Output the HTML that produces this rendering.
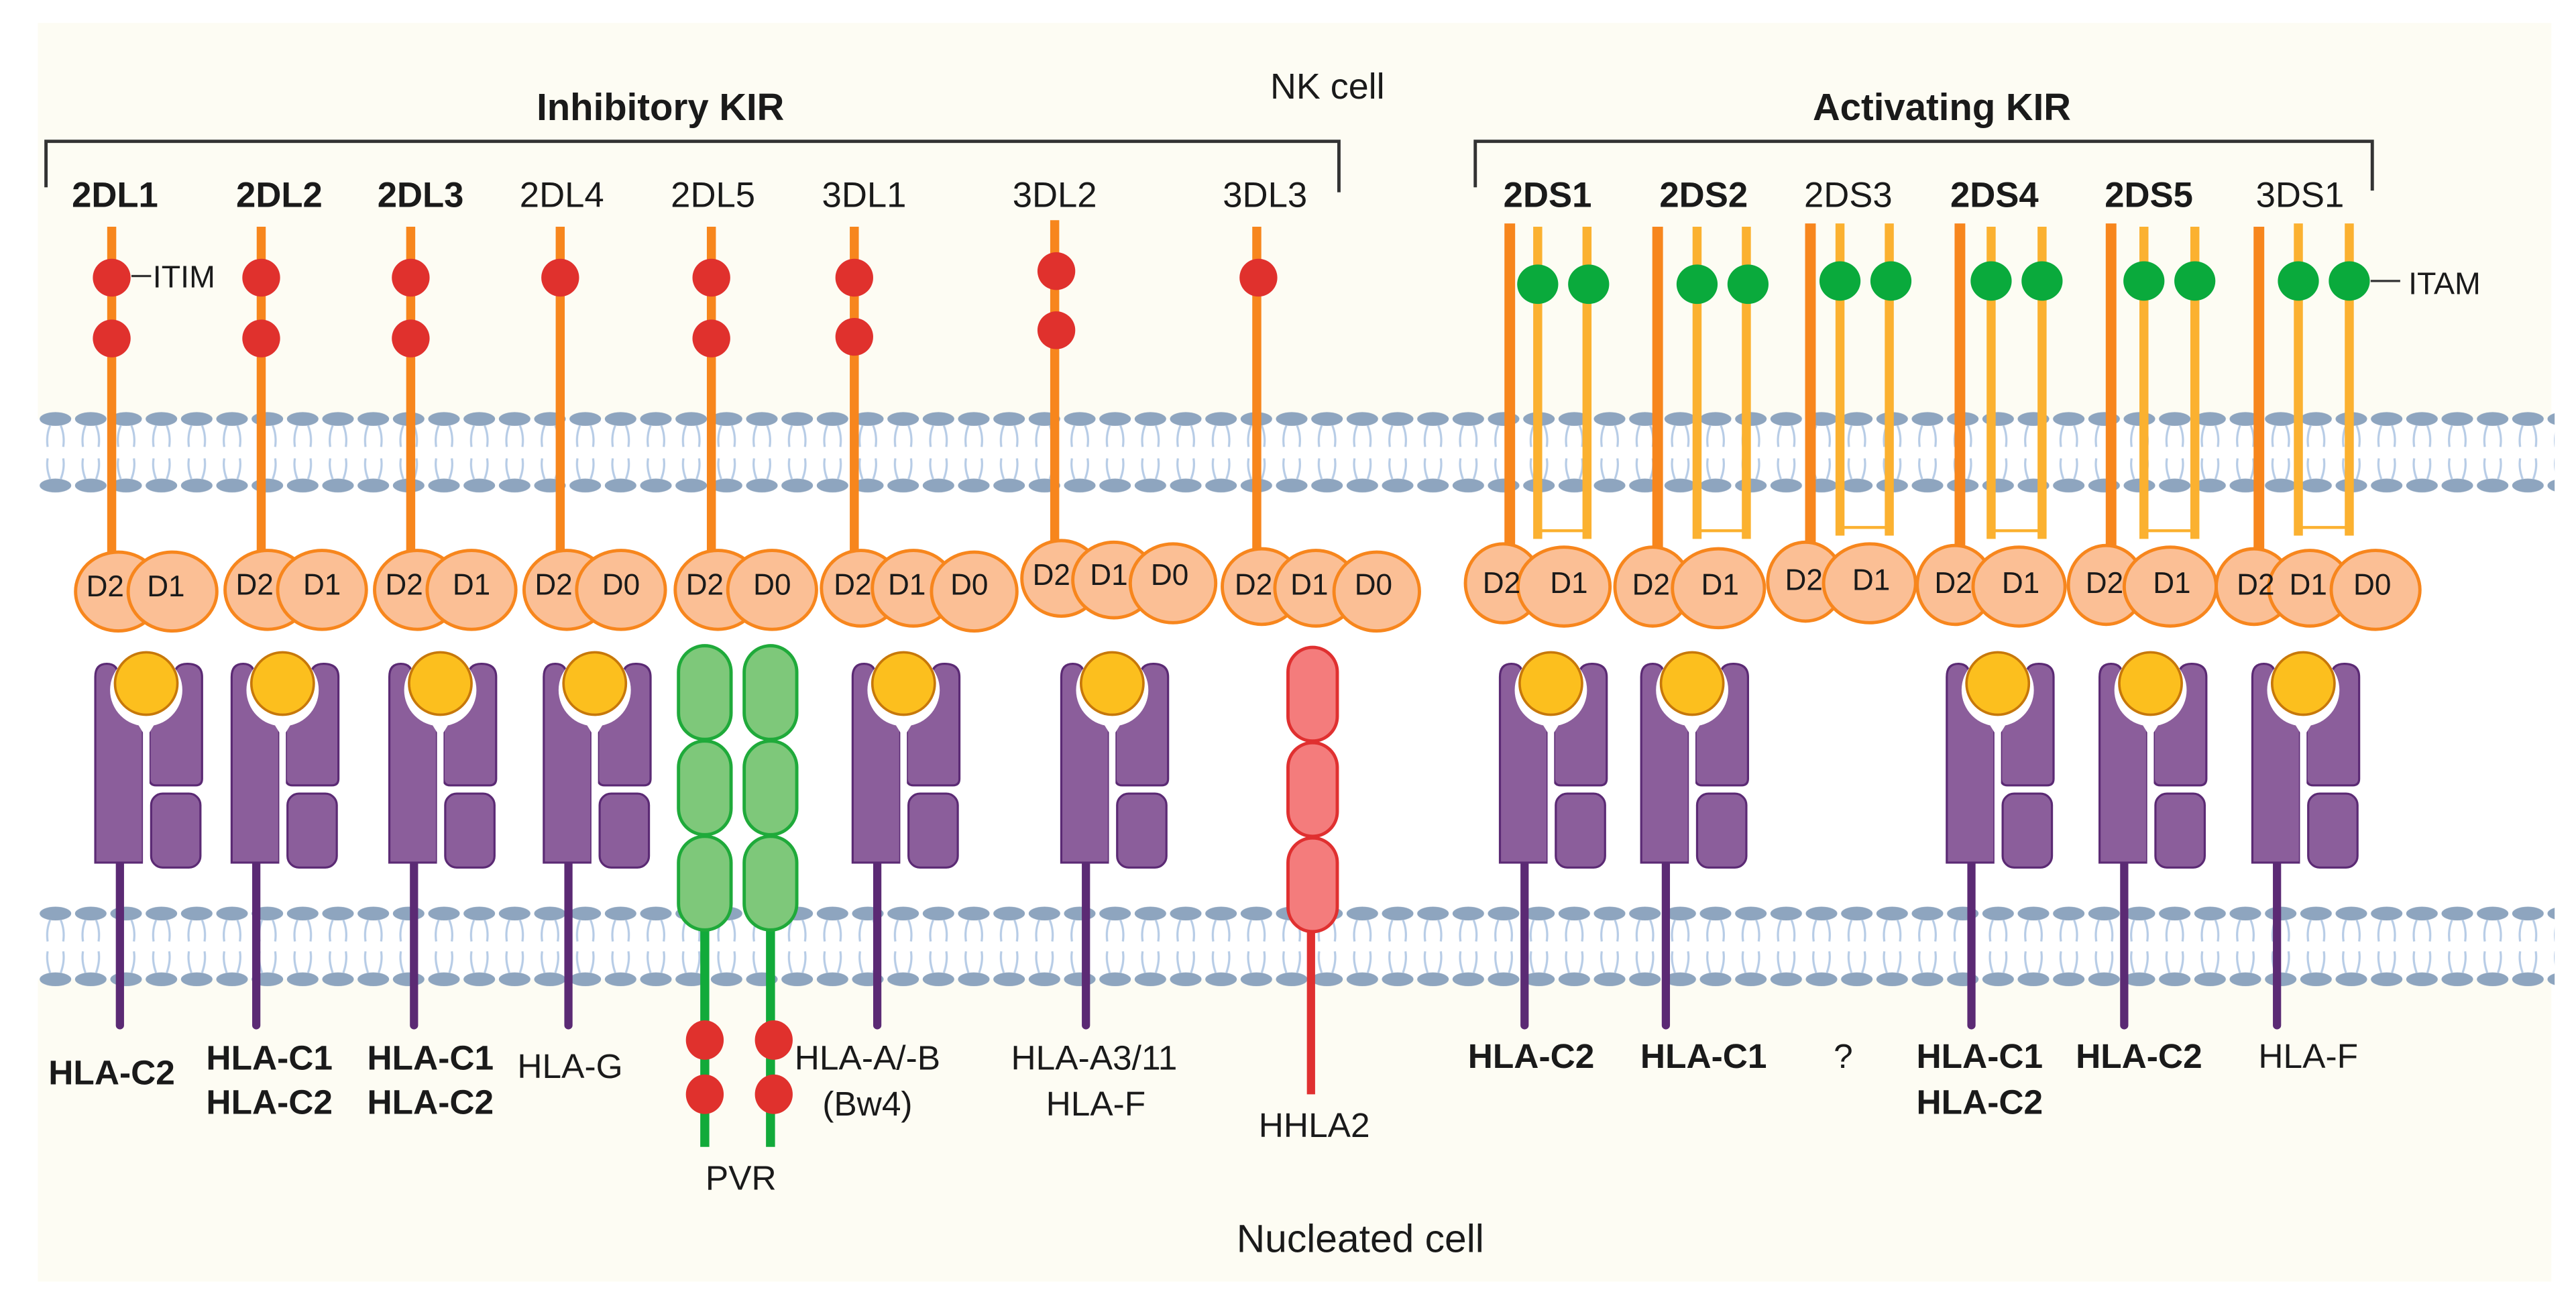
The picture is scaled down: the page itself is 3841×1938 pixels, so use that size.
<!DOCTYPE html>
<html><head><meta charset="utf-8"><style>
html,body{margin:0;padding:0;background:#fff;}
svg{display:block;}
text{font-family:"Liberation Sans",Arial,sans-serif;fill:#1a1a1a;}
.b{font-weight:bold;}
</style></head><body>
<svg width="3841" height="1938" viewBox="0 0 1568 791.2" preserveAspectRatio="none" xmlns="http://www.w3.org/2000/svg">
<defs>
<pattern id="mem" patternUnits="userSpaceOnUse" x="23" y="250" width="21.5" height="50">
<ellipse cx="10.75" cy="5" rx="9.6" ry="4.2" fill="#8ea5bf"/>
<ellipse cx="10.75" cy="45.5" rx="9.6" ry="4.2" fill="#8ea5bf"/>
<path d="M7.5,9 Q5,15 6,22 M14,9 Q16.5,15 15.5,22 M6,29 Q5,35 7.5,41.5 M15.5,29 Q16.5,35 14,41.5" stroke="#b7cce6" stroke-width="1.3" fill="none"/>
</pattern>
<pattern id="mem2" patternUnits="userSpaceOnUse" x="23" y="551" width="21.5" height="50">
<ellipse cx="10.75" cy="5" rx="9.6" ry="4.2" fill="#8ea5bf"/>
<ellipse cx="10.75" cy="45" rx="9.6" ry="4.2" fill="#8ea5bf"/>
<path d="M7.5,9 Q5,15 6,22 M14,9 Q16.5,15 15.5,22 M6,28 Q5,34 7.5,41 M15.5,28 Q16.5,34 14,41" stroke="#b7cce6" stroke-width="1.3" fill="none"/>
</pattern>
<g id="hla">
<line x1="-16" y1="520" x2="-16" y2="624" stroke="#5b2a74" stroke-width="5" stroke-linecap="round"/>
<path d="M-31,525 L-31,412 Q-31,404 -24,404 Q-17,404 -17,412 L-2,430 L-2,525 Z" fill="#8b5e9b" stroke="#5b2a74" stroke-width="1.3"/>
<path d="M2,430 L17,412 Q17,404 25,404 Q34,404 34,412 L34,474 Q34,478 30,478 L6,478 Q2,478 2,474 Z" fill="#8b5e9b" stroke="#5b2a74" stroke-width="1.3"/>
<rect x="3" y="483" width="30" height="45" rx="7" fill="#8b5e9b" stroke="#5b2a74" stroke-width="1.3"/>
<circle cx="0" cy="420" r="22" fill="#fff"/>
<path d="M-8,436 L0,449 L8,436 Z" fill="#fff"/>
<rect x="-2" y="440" width="4" height="90" fill="#fff"/>
<circle cx="0" cy="416" r="19" fill="#fcbf1e" stroke="#c7780a" stroke-width="1.5"/>
</g>
</defs>

<!-- backgrounds -->
<rect x="23" y="14" width="1530" height="241" fill="#fdfcf3"/>
<rect x="23" y="596" width="1530" height="184" fill="#fdfcf3"/>
<rect x="23" y="250" width="1532" height="50" fill="url(#mem)"/>
<rect x="23" y="551" width="1532" height="50" fill="url(#mem2)"/>

<!-- titles & brackets -->
<text x="402" y="73" font-size="23" class="b" text-anchor="middle">Inhibitory KIR</text>
<text x="808" y="60" font-size="22" text-anchor="middle">NK cell</text>
<text x="1182" y="73" font-size="23" class="b" text-anchor="middle">Activating KIR</text>
<path d="M28,114 L28,86 L815,86 L815,117" fill="none" stroke="#333" stroke-width="2"/>
<path d="M898,114 L898,86 L1444,86 L1444,116" fill="none" stroke="#333" stroke-width="2"/>

<!-- receptor names -->
<g font-size="21.5" text-anchor="middle">
<text x="70" y="126" class="b">2DL1</text>
<text x="170" y="126" class="b">2DL2</text>
<text x="256" y="126" class="b">2DL3</text>
<text x="342" y="126">2DL4</text>
<text x="434" y="126">2DL5</text>
<text x="526" y="126">3DL1</text>
<text x="642" y="126">3DL2</text>
<text x="770" y="126">3DL3</text>
<text x="942" y="126" class="b">2DS1</text>
<text x="1037" y="126" class="b">2DS2</text>
<text x="1125" y="126">2DS3</text>
<text x="1214" y="126" class="b">2DS4</text>
<text x="1308" y="126" class="b">2DS5</text>
<text x="1400" y="126">3DS1</text>
</g>

<!-- inhibitory stems -->
<g stroke="#f7861d" stroke-width="5.5">
<line x1="68" y1="138" x2="68" y2="345"/>
<line x1="159" y1="138" x2="159" y2="345"/>
<line x1="250" y1="138" x2="250" y2="345"/>
<line x1="341" y1="138" x2="341" y2="345"/>
<line x1="433" y1="138" x2="433" y2="345"/>
<line x1="520" y1="138" x2="520" y2="345"/>
<line x1="642" y1="134" x2="642" y2="340"/>
<line x1="765" y1="138" x2="765" y2="345"/>
</g>
<g fill="#e0312d">
<ellipse cx="68" cy="169" rx="11.5" ry="11.5"/><ellipse cx="68" cy="206" rx="11.5" ry="11.5"/>
<ellipse cx="159" cy="169" rx="11.5" ry="11.5"/><ellipse cx="159" cy="206" rx="11.5" ry="11.5"/>
<ellipse cx="250" cy="169" rx="11.5" ry="11.5"/><ellipse cx="250" cy="206" rx="11.5" ry="11.5"/>
<ellipse cx="341" cy="169" rx="11.5" ry="11.5"/>
<ellipse cx="433" cy="169" rx="11.5" ry="11.5"/><ellipse cx="433" cy="206" rx="11.5" ry="11.5"/>
<ellipse cx="520" cy="169" rx="11.5" ry="11.5"/><ellipse cx="520" cy="205" rx="11.5" ry="11.5"/>
<ellipse cx="643" cy="165" rx="11.5" ry="11.5"/><ellipse cx="643" cy="201" rx="11.5" ry="11.5"/>
<ellipse cx="766" cy="169" rx="11.5" ry="11.5"/>
</g>
<line x1="80" y1="168" x2="92" y2="168" stroke="#333" stroke-width="1.3"/>
<text x="93" y="175" font-size="19">ITIM</text>

<!-- activating stems -->
<g stroke="#f7861d" stroke-width="6.5">
<line x1="919" y1="136" x2="919" y2="342"/>
<line x1="1009" y1="138" x2="1009" y2="342"/>
<line x1="1102" y1="136" x2="1102" y2="340"/>
<line x1="1193" y1="136" x2="1193" y2="342"/>
<line x1="1285" y1="136" x2="1285" y2="342"/>
<line x1="1375" y1="138" x2="1375" y2="342"/>
</g>
<g stroke="#fbb130" stroke-width="5.5" fill="none">
<path d="M936,138 L936,328 M966,138 L966,328"/>
<path d="M1033,138 L1033,328 M1063,138 L1063,328"/>
<path d="M1120,136 L1120,326 M1150,136 L1150,326"/>
<path d="M1212,138 L1212,328 M1243,138 L1243,328"/>
<path d="M1305,138 L1305,328 M1336,138 L1336,328"/>
<path d="M1399,136 L1399,326 M1430,136 L1430,326"/>
</g>
<g stroke="#fbb130" stroke-width="1.8">
<line x1="936" y1="323" x2="966" y2="323"/>
<line x1="1033" y1="323" x2="1063" y2="323"/>
<line x1="1120" y1="321" x2="1150" y2="321"/>
<line x1="1212" y1="323" x2="1243" y2="323"/>
<line x1="1305" y1="323" x2="1336" y2="323"/>
<line x1="1399" y1="321" x2="1430" y2="321"/>
</g>
<g fill="#0aaa3c">
<ellipse cx="936" cy="173" rx="12.5" ry="12"/><ellipse cx="967" cy="173" rx="12.5" ry="12"/>
<ellipse cx="1033" cy="173" rx="12.5" ry="12"/><ellipse cx="1064" cy="173" rx="12.5" ry="12"/>
<ellipse cx="1120" cy="171" rx="12.5" ry="12"/><ellipse cx="1151" cy="171" rx="12.5" ry="12"/>
<ellipse cx="1212" cy="171" rx="12.5" ry="12"/><ellipse cx="1243" cy="171" rx="12.5" ry="12"/>
<ellipse cx="1305" cy="171" rx="12.5" ry="12"/><ellipse cx="1336" cy="171" rx="12.5" ry="12"/>
<ellipse cx="1399" cy="171" rx="12.5" ry="12"/><ellipse cx="1430" cy="171" rx="12.5" ry="12"/>
</g>
<line x1="1443" y1="171" x2="1461" y2="171" stroke="#333" stroke-width="1.3"/>
<text x="1466" y="179" font-size="19">ITAM</text>

<!-- Ig domains -->
<g fill="#fbbf95" stroke="#f7861d" stroke-width="2">
<!-- inhibitory 2-domain -->
<ellipse cx="72" cy="360" rx="26" ry="24"/><ellipse cx="105" cy="360" rx="27" ry="24"/>
<ellipse cx="163" cy="359" rx="26" ry="24"/><ellipse cx="196" cy="359" rx="27" ry="24"/>
<ellipse cx="254" cy="359" rx="26" ry="24"/><ellipse cx="287" cy="359" rx="27" ry="24"/>
<ellipse cx="345" cy="359" rx="26" ry="24"/><ellipse cx="378" cy="359" rx="27" ry="24"/>
<ellipse cx="437" cy="359" rx="26" ry="24"/><ellipse cx="470" cy="359" rx="27" ry="24"/>
<!-- 3-domain -->
<ellipse cx="524" cy="358" rx="24" ry="23"/><ellipse cx="556" cy="358" rx="25" ry="23"/><ellipse cx="593" cy="360" rx="26" ry="24"/>
<ellipse cx="646" cy="352" rx="24" ry="23"/><ellipse cx="678" cy="353" rx="25" ry="23"/><ellipse cx="714" cy="355" rx="26" ry="24"/>
<ellipse cx="768" cy="357" rx="24" ry="23"/><ellipse cx="801" cy="358" rx="25" ry="23"/><ellipse cx="838" cy="360" rx="26" ry="24"/>
<!-- activating -->
<ellipse cx="915" cy="355" rx="23" ry="24"/><ellipse cx="952" cy="357" rx="28" ry="24"/>
<ellipse cx="1006" cy="357" rx="23" ry="24"/><ellipse cx="1046" cy="358" rx="28" ry="24"/>
<ellipse cx="1099" cy="354" rx="23" ry="24"/><ellipse cx="1138" cy="355" rx="28" ry="24"/>
<ellipse cx="1190" cy="356" rx="23" ry="24"/><ellipse cx="1229" cy="357" rx="28" ry="24"/>
<ellipse cx="1282" cy="356" rx="23" ry="24"/><ellipse cx="1321" cy="357" rx="28" ry="24"/>
<ellipse cx="1372" cy="357" rx="23" ry="23"/><ellipse cx="1406" cy="358" rx="25" ry="23"/><ellipse cx="1446" cy="359" rx="27" ry="24"/>
</g>
<g font-size="18" text-anchor="middle">
<text x="64" y="363">D2</text><text x="101" y="363">D1</text>
<text x="155" y="362">D2</text><text x="196" y="362">D1</text>
<text x="246" y="362">D2</text><text x="287" y="362">D1</text>
<text x="337" y="362">D2</text><text x="378" y="362">D0</text>
<text x="429" y="362">D2</text><text x="470" y="362">D0</text>
<text x="519" y="362">D2</text><text x="552" y="362">D1</text><text x="590" y="362">D0</text>
<text x="640" y="356">D2</text><text x="675" y="356">D1</text><text x="712" y="356">D0</text>
<text x="763" y="362">D2</text><text x="797" y="362">D1</text><text x="836" y="362">D0</text>
<text x="914" y="361">D2</text><text x="955" y="361">D1</text>
<text x="1005" y="362">D2</text><text x="1047" y="362">D1</text>
<text x="1098" y="359">D2</text><text x="1139" y="359">D1</text>
<text x="1189" y="361">D2</text><text x="1230" y="361">D1</text>
<text x="1281" y="361">D2</text><text x="1322" y="361">D1</text>
<text x="1373" y="362">D2</text><text x="1405" y="362">D1</text><text x="1444" y="362">D0</text>
</g>

<!-- HLA molecules -->
<use href="#hla" x="89"/>
<use href="#hla" x="172"/>
<use href="#hla" x="268"/>
<use href="#hla" x="362"/>
<use href="#hla" x="550"/>
<use href="#hla" x="677"/>
<use href="#hla" x="944"/>
<use href="#hla" x="1030"/>
<use href="#hla" x="1216"/>
<use href="#hla" x="1309"/>
<use href="#hla" x="1402"/>

<!-- PVR -->
<g stroke="#12aa3a" stroke-width="5.5">
<line x1="429" y1="560" x2="429" y2="698"/>
<line x1="469" y1="560" x2="469" y2="698"/>
</g>
<g fill="#7ec87a" stroke="#1faa3a" stroke-width="2">
<rect x="413" y="393" width="32" height="57" rx="16"/>
<rect x="413" y="451" width="32" height="57" rx="16"/>
<rect x="413" y="509" width="32" height="57" rx="16"/>
<rect x="453" y="393" width="32" height="57" rx="16"/>
<rect x="453" y="451" width="32" height="57" rx="16"/>
<rect x="453" y="509" width="32" height="57" rx="16"/>
</g>
<g fill="#e0312d">
<ellipse cx="429" cy="633" rx="11.5" ry="12"/><ellipse cx="429" cy="666" rx="11.5" ry="12"/>
<ellipse cx="471" cy="633" rx="11.5" ry="12"/><ellipse cx="471" cy="666" rx="11.5" ry="12"/>
</g>

<!-- HHLA2 -->
<line x1="798" y1="560" x2="798" y2="666" stroke="#e03030" stroke-width="5"/>
<g fill="#f47c7c" stroke="#e03030" stroke-width="2">
<rect x="784" y="394" width="30" height="57" rx="15"/>
<rect x="784" y="452" width="30" height="57" rx="15"/>
<rect x="784" y="510" width="30" height="57" rx="15"/>
</g>

<!-- ligand labels -->
<g font-size="21" text-anchor="middle">
<text x="68" y="660" class="b">HLA-C2</text>
<text x="164" y="651" class="b">HLA-C1</text><text x="164" y="678" class="b">HLA-C2</text>
<text x="262" y="651" class="b">HLA-C1</text><text x="262" y="678" class="b">HLA-C2</text>
<text x="347" y="656">HLA-G</text>
<text x="528" y="651">HLA-A/-B</text><text x="528" y="679">(Bw4)</text>
<text x="666" y="651">HLA-A3/11</text><text x="667" y="679">HLA-F</text>
<text x="800" y="692">HHLA2</text>
<text x="451" y="724">PVR</text>
<text x="932" y="650" class="b">HLA-C2</text>
<text x="1037" y="650" class="b">HLA-C1</text>
<text x="1122" y="650">?</text>
<text x="1205" y="650" class="b">HLA-C1</text><text x="1205" y="678" class="b">HLA-C2</text>
<text x="1302" y="650" class="b">HLA-C2</text>
<text x="1405" y="650">HLA-F</text>
</g>
<text x="828" y="762" font-size="24" text-anchor="middle">Nucleated cell</text>
</svg>
</body></html>
